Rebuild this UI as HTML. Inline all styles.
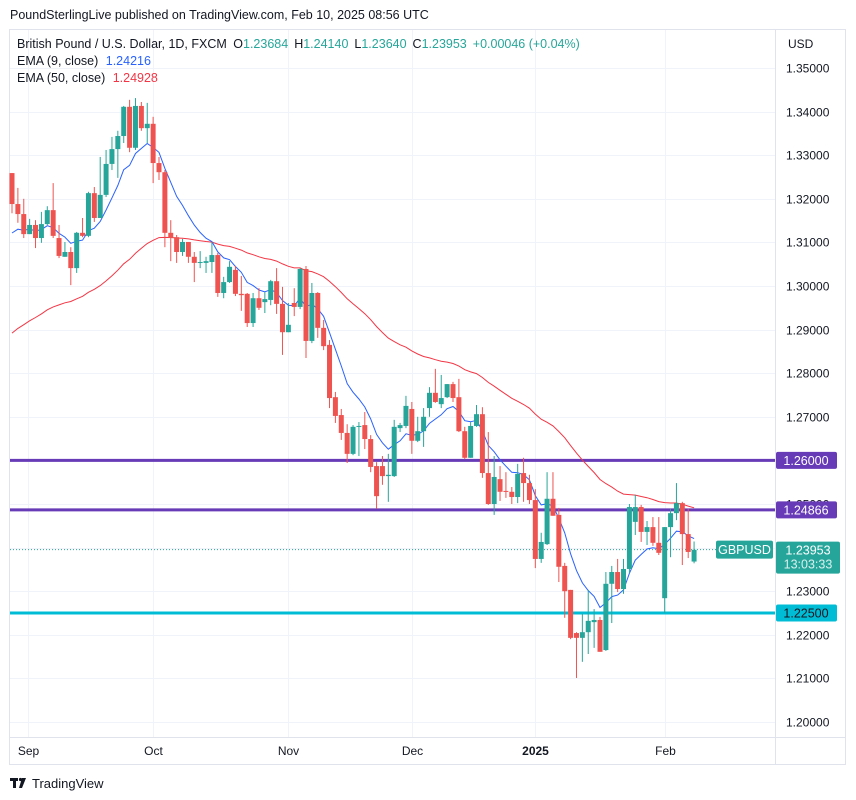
<!DOCTYPE html>
<html><head><meta charset="utf-8"><style>
body{margin:0;background:#fff;}
svg{display:block;font-family:"Liberation Sans",sans-serif;}
</style></head><body>
<svg id="chart" width="856" height="800" viewBox="0 0 856 800" xmlns="http://www.w3.org/2000/svg">
<rect x="0" y="0" width="856" height="800" fill="#fff"/>
<text x="10" y="19" font-size="12.5" fill="#131722">PoundSterlingLive published on TradingView.com, Feb 10, 2025 08:56 UTC</text>
<rect x="9.5" y="29.5" width="836" height="735" fill="none" stroke="#e0e3eb"/>
<g id="grid"></g>
<g id="hlines"></g>
<g id="ema"></g>
<g id="candles"></g>
<g id="axis"></g>
<line x1="775.5" y1="30" x2="775.5" y2="764" stroke="#e0e3eb"/>
<line x1="10" y1="737.5" x2="846" y2="737.5" stroke="#e0e3eb"/>
<text x="788" y="48" font-size="12" fill="#131722">USD</text>
<g font-size="12.5">
<text x="17" y="48" fill="#131722">British Pound / U.S. Dollar, 1D, FXCM <tspan dx="3">O</tspan><tspan fill="#26a69a">1.23684</tspan><tspan dx="6">H</tspan><tspan fill="#26a69a">1.24140</tspan><tspan dx="6">L</tspan><tspan fill="#26a69a">1.23640</tspan><tspan dx="6">C</tspan><tspan fill="#26a69a">1.23953</tspan><tspan dx="6" fill="#26a69a">+0.00046 (+0.04%)</tspan></text>
<text x="17" y="65" fill="#131722">EMA (9, close) <tspan dx="4" fill="#2962ff">1.24216</tspan></text>
<text x="17" y="82" fill="#131722">EMA (50, close) <tspan dx="4" fill="#f23645">1.24928</tspan></text>
</g>
<g>
<g fill="#131722">
<rect x="10" y="778" width="8" height="3"/>
<rect x="13" y="778" width="3" height="10"/>
<circle cx="20.5" cy="779.5" r="1.6"/>
<polygon points="22,778 26,778 22,788 19,788"/>
</g>
<text x="32" y="788" font-size="13" fill="#131722">TradingView</text>
</g>
</svg>
<script>
const opens=[1.3259,1.3188,1.3165,1.3119,1.3140,1.3110,1.3142,1.3174,1.3110,1.3067,1.3078,1.3041,1.3122,1.3115,1.3213,1.3156,1.3209,1.3280,1.3314,1.3344,1.3411,1.3317,1.3413,1.3362,1.3372,1.3282,1.3261,1.3122,1.3112,1.3078,1.3101,1.3067,1.3053,1.3053,1.3055,1.3071,1.2984,1.3009,1.3037,1.2982,1.2982,1.2915,1.2972,1.2963,1.2968,1.3011,1.2959,1.2894,1.2961,1.2952,1.3039,1.2874,1.2984,1.2904,1.2865,1.2745,1.2704,1.2663,1.2615,1.2677,1.2681,1.2649,1.2587,1.2587,1.2564,1.2564,1.2674,1.2679,1.2718,1.2645,1.2667,1.2720,1.2755,1.2729,1.2745,1.2775,1.2745,1.2667,1.2606,1.2679,1.2706,1.2571,1.2500,1.2557,1.2530,1.2528,1.2516,1.2571,1.2548,1.2509,1.2374,1.2408,1.2512,1.2475,1.2358,1.2303,1.2204,1.2193,1.2206,1.2229,1.2234,1.2165,1.2317,1.2344,1.2305,1.2351,1.2459,1.2493,1.2436,1.2447,1.2411,1.2284,1.2447,1.2479,1.2502,1.2431,1.2368];
const highs=[1.3259,1.3225,1.3200,1.3154,1.3151,1.3170,1.3183,1.3236,1.3140,1.3101,1.3089,1.3124,1.3156,1.3216,1.3227,1.3296,1.3312,1.3342,1.3356,1.3413,1.3427,1.3431,1.3422,1.3420,1.3388,1.3296,1.3266,1.3151,1.3117,1.3108,1.3101,1.3078,1.3080,1.3067,1.3101,1.3076,1.3021,1.3057,1.3046,1.3023,1.2984,1.2984,1.2995,1.2986,1.3014,1.3041,1.2998,1.2961,1.2995,1.3041,1.3046,1.3007,1.2986,1.2922,1.2876,1.2757,1.2718,1.2683,1.2681,1.2688,1.2711,1.2658,1.2596,1.2610,1.2615,1.2693,1.2686,1.2748,1.2734,1.2700,1.2720,1.2768,1.2810,1.2796,1.2775,1.2780,1.2787,1.2677,1.2688,1.2727,1.2722,1.2665,1.2610,1.2587,1.2573,1.2539,1.2592,1.2606,1.2567,1.2534,1.2434,1.2573,1.2573,1.2491,1.2365,1.2303,1.2206,1.2248,1.2303,1.2259,1.2241,1.2344,1.2358,1.2374,1.2374,1.2500,1.2521,1.2498,1.2461,1.2470,1.2470,1.2447,1.2489,1.2548,1.2505,1.2489,1.2414];
const lows=[1.3167,1.3145,1.3110,1.3119,1.3087,1.3099,1.3140,1.3110,1.3064,1.3067,1.3002,1.3030,1.3112,1.3112,1.3147,1.3156,1.3204,1.3266,1.3248,1.3328,1.3307,1.3312,1.3356,1.3328,1.3236,1.3243,1.3089,1.3057,1.3053,1.3069,1.3053,1.3009,1.3041,1.3030,1.3030,1.2975,1.2972,1.3007,1.2977,1.2943,1.2906,1.2906,1.2945,1.2938,1.2956,1.2936,1.2842,1.2894,1.2931,1.2947,1.2835,1.2869,1.2881,1.2853,1.2720,1.2686,1.2647,1.2594,1.2612,1.2610,1.2626,1.2573,1.2489,1.2544,1.2505,1.2562,1.2665,1.2674,1.2615,1.2642,1.2631,1.2700,1.2732,1.2720,1.2743,1.2734,1.2665,1.2603,1.2606,1.2677,1.2560,1.2498,1.2475,1.2507,1.2514,1.2500,1.2502,1.2505,1.2500,1.2353,1.2365,1.2406,1.2473,1.2321,1.2239,1.2190,1.2101,1.2138,1.2156,1.2170,1.2161,1.2163,1.2227,1.2298,1.2294,1.2342,1.2429,1.2413,1.2406,1.2404,1.2383,1.2250,1.2378,1.2463,1.2360,1.2376,1.2364];
const closes=[1.3188,1.3165,1.3119,1.3140,1.3110,1.3142,1.3174,1.3115,1.3069,1.3078,1.3041,1.3122,1.3115,1.3213,1.3156,1.3209,1.3280,1.3314,1.3344,1.3411,1.3317,1.3413,1.3362,1.3372,1.3282,1.3261,1.3122,1.3110,1.3078,1.3101,1.3067,1.3053,1.3055,1.3057,1.3071,1.2984,1.3009,1.3044,1.2982,1.2979,1.2915,1.2972,1.2950,1.2970,1.3011,1.2959,1.2894,1.2911,1.2952,1.3039,1.2874,1.2984,1.2904,1.2862,1.2743,1.2702,1.2663,1.2615,1.2677,1.2679,1.2649,1.2585,1.2518,1.2564,1.2567,1.2677,1.2681,1.2725,1.2645,1.2667,1.2700,1.2755,1.2734,1.2743,1.2775,1.2743,1.2667,1.2606,1.2679,1.2706,1.2571,1.2500,1.2562,1.2528,1.2528,1.2516,1.2569,1.2548,1.2509,1.2374,1.2413,1.2512,1.2473,1.2356,1.2300,1.2193,1.2193,1.2206,1.2232,1.2234,1.2161,1.2317,1.2344,1.2305,1.2351,1.2493,1.2493,1.2436,1.2447,1.2411,1.2388,1.2447,1.2479,1.2502,1.2431,1.2390,1.2395];
const ema9Seed=1.3105;
const ema50Seed=1.2880;
const priceTicks=[1.20,1.21,1.22,1.23,1.24,1.25,1.26,1.27,1.28,1.29,1.30,1.31,1.32,1.33,1.34,1.35];
const monthLabels=["Sep","Oct","Nov","Dec","2025","Feb"];
const monthBarIndex=[2.8,23.9,47,68,89,111];
const levelPrices=[1.26,1.24866,1.225];
const levelColors=["#673ab7","#673ab7","#00bcd4"];
const lastPrice=1.23953;

const NS="http://www.w3.org/2000/svg";
const yOf=p=>68+(1.35-p)*4360;
const xOf=i=>12+i*5.88;
function mk(tag,attrs,parent){const e=document.createElementNS(NS,tag);for(const k in attrs)e.setAttribute(k,attrs[k]);parent.appendChild(e);return e;}
const grid=document.getElementById('grid'),axis=document.getElementById('axis');
priceTicks.forEach(p=>{
  const y=Math.round(yOf(p))+0.5;
  const l=mk('line',{x1:10,x2:775,y1:y,y2:y,stroke:'#f0f3fa'},grid);
  
  
  const t=mk('text',{x:786,y:y+4,'font-size':12,fill:'#131722'},axis);
  t.textContent=p.toFixed(5);
  
  
});
monthLabels.forEach((m,k)=>{
  const x=Math.round(xOf(monthBarIndex[k]))+0.5;
  const l=mk('line',{x1:x,x2:x,y1:30,y2:737,stroke:'#f0f3fa'},grid);
  
  
  const t=mk('text',{x:x,y:755,'font-size':12,fill:'#131722','text-anchor':'middle','font-weight':m==='2025'?'bold':'normal'},axis);
  t.textContent=m;
  
  
});
function ema(seed,n){const a=2/(n+1);let v=seed;return closes.map(c=>(v=v+a*(c-v)));}
const e9=ema(ema9Seed,9),e50=ema(ema50Seed,50);
const eg=document.getElementById('ema');
[[e50,'#f23645','ema-50-line'],[e9,'#2962ff','ema-9-line']].forEach(([arr,col,name])=>{
  const p=mk('path',{d:arr.map((v,i)=>(i?'L':'M')+xOf(i).toFixed(1)+','+yOf(v).toFixed(1)).join(''),fill:'none',stroke:col,'stroke-width':1},eg);
  
  
});
const cg=document.getElementById('candles');
opens.forEach((o,i)=>{
  const c=closes[i],up=c>=o,col=up?'#26a69a':'#ef5350',x=xOf(i);
  const g=mk('g',{},cg);
  
  
  mk('line',{x1:x,x2:x,y1:yOf(highs[i]),y2:yOf(lows[i]),stroke:col,'stroke-width':1},g);
  const top=yOf(Math.max(o,c)),h=Math.max(1,yOf(Math.min(o,c))-top);
  mk('rect',{x:x-2.5,y:top,width:5,height:h,fill:col},g);
});
const hg=document.getElementById('hlines');
levelPrices.forEach((p,k)=>{
  const y=yOf(p);
  const l=mk('line',{x1:10,x2:775,y1:y,y2:y,stroke:levelColors[k],'stroke-width':3},hg);
  
  
  const r=mk('rect',{x:776,y:y-8.5,width:61,height:17,rx:2,fill:levelColors[k]},axis);
  
  
  const t=mk('text',{x:806,y:y+4.5,'font-size':12.5,fill:k===2?'#131722':'#fff','text-anchor':'middle'},axis);
  t.textContent=p.toFixed(5);
  
  
});
const ly=yOf(lastPrice);
const dl=mk('line',{x1:10,x2:716,y1:ly,y2:ly,stroke:'#26a69a','stroke-dasharray':'1 2'},hg);


const sr=mk('rect',{x:716,y:ly-9,width:57,height:18,rx:2,fill:'#26a69a'},axis);


const st=mk('text',{x:744.5,y:ly+4.5,'font-size':12.5,fill:'#fff','text-anchor':'middle'},axis);
st.textContent='GBPUSD';


const pr=mk('rect',{x:776,y:ly-8,width:64,height:32,rx:2,fill:'#26a69a'},axis);


const pt=mk('text',{x:808,y:ly+5,'font-size':12.5,fill:'#fff','text-anchor':'middle'},axis);
pt.textContent=lastPrice.toFixed(5);


const ct=mk('text',{x:808,y:ly+19,'font-size':12.5,fill:'#d8f0ee','text-anchor':'middle'},axis);
ct.textContent='13:03:33';


</script>
</body></html>
